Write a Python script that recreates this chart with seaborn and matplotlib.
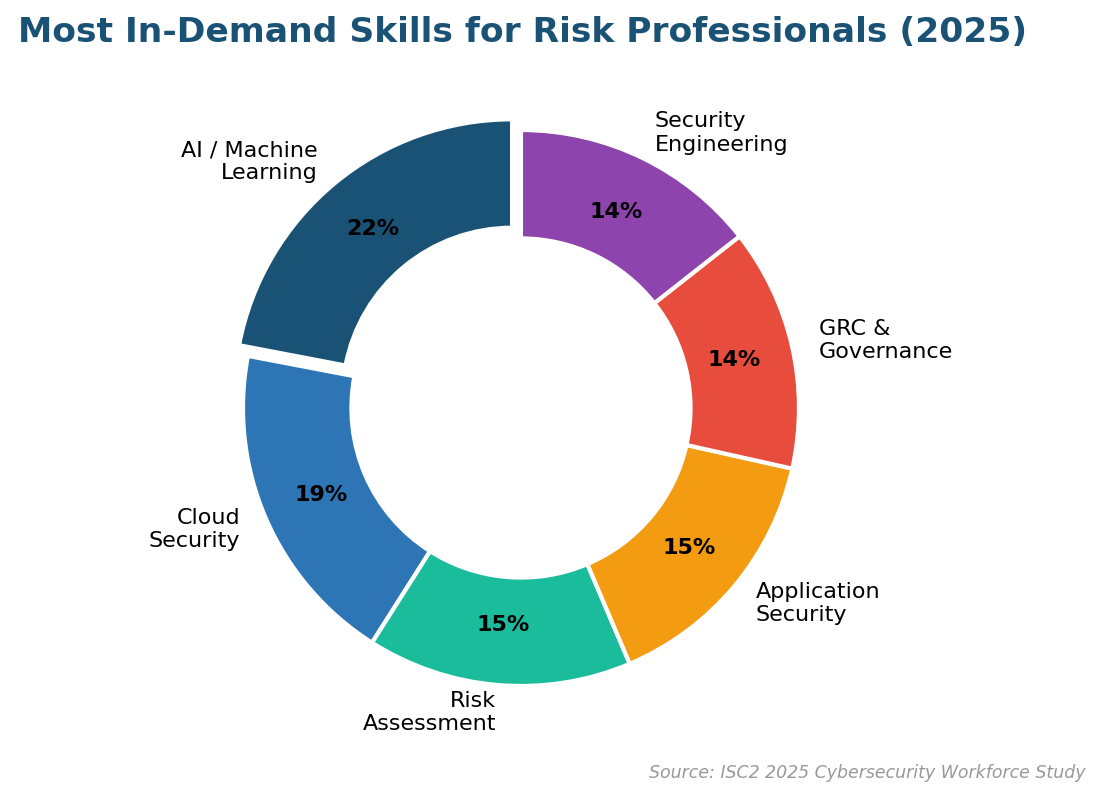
import seaborn as sns
import matplotlib.pyplot as plt

skills = ['AI / Machine\nLearning', 'Cloud\nSecurity', 'Risk\nAssessment',
          'Application\nSecurity', 'GRC &\nGovernance', 'Security\nEngineering']
shares = [22, 19, 15.4, 15.1, 14.1, 14.4]
colors = ['#1a5276', '#2e75b6', '#1abc9c', '#f39c12', '#e74c3c', '#8e44ad']
explode = [0.05, 0, 0, 0, 0, 0]

sns.set_theme(style='white')
plt.rcParams['font.family'] = ['DejaVu Sans']
palette = sns.color_palette(colors)

fig = plt.figure(figsize=(11.04, 8), dpi=100)
ax = fig.add_axes([0.0942, 0.0035, 0.7554, 0.973])

wedges, texts, autotexts = ax.pie(
    shares, labels=skills, colors=palette, explode=explode,
    startangle=90, counterclock=True, autopct='%.0f%%',
    pctdistance=0.785, labeldistance=1.1,
    wedgeprops=dict(width=0.39, edgecolor='white', linewidth=3),
    textprops=dict(fontsize=16, color='black'))
for t in autotexts:
    t.set_fontweight('bold')
    t.set_fontsize(16)

ax.set_xlim(-1.5, 1.5)
ax.set_ylim(-1.4, 1.4)
ax.set_aspect('equal')
ax.axis('off')

fig.text(0.016, 0.96, 'Most In-Demand Skills for Risk Professionals (2025)',
         fontsize=24.8, fontweight='bold', color='#1a5276', ha='left', va='center')
fig.text(0.983, 0.034, 'Source: ISC2 2025 Cybersecurity Workforce Study',
         fontsize=12.5, style='italic', color='#999999', ha='right', va='center')

fig.savefig('out.png', dpi=100)
